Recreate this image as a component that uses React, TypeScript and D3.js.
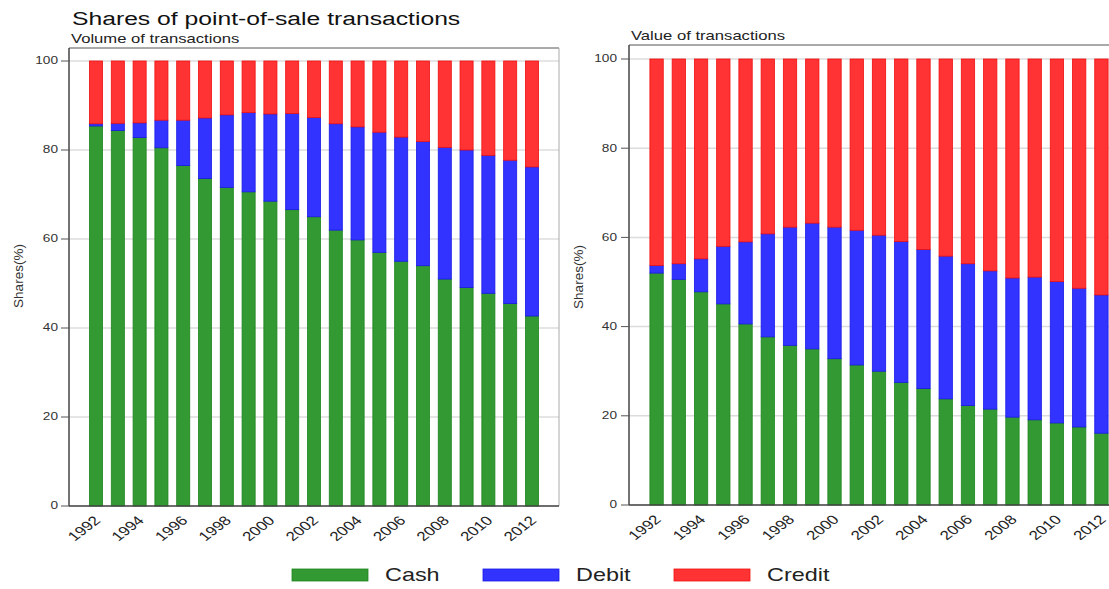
import React from "react";
import * as d3 from "d3";

const years = [1992, 1993, 1994, 1995, 1996, 1997, 1998, 1999, 2000, 2001, 2002, 2003, 2004, 2005, 2006, 2007, 2008, 2009, 2010, 2011, 2012];
const yearLabels = ["1992", "1994", "1996", "1998", "2000", "2002", "2004", "2006", "2008", "2010", "2012"];
const yTicks = [0, 20, 40, 60, 80, 100];
const seriesNames = ["Cash", "Debit", "Credit"];
const seriesFill = ["#339933", "#3333ff", "#ff3333"];
const seriesStroke = ["#1f851f", "#1a1ae6", "#f01010"];

// Volume of transactions (shares, %)
const volCash = [85.4, 84.4, 82.8, 80.5, 76.5, 73.6, 71.6, 70.6, 68.5, 66.6, 65.0, 62.0, 59.8, 57.0, 55.0, 54.0, 51.0, 49.1, 47.8, 45.5, 42.7];
const volDebit = [0.5, 1.6, 3.3, 6.2, 10.2, 13.6, 16.3, 17.8, 19.6, 21.6, 22.3, 23.9, 25.4, 27.0, 27.9, 27.9, 29.6, 30.9, 31.0, 32.2, 33.5];
const volCredit = [14.1, 14.0, 13.9, 13.3, 13.3, 12.8, 12.1, 11.6, 11.9, 11.8, 12.7, 14.1, 14.8, 16.0, 17.1, 18.1, 19.4, 20.0, 21.2, 22.3, 23.8];

// Value of transactions (shares, %)
const valCash = [52.0, 50.6, 47.8, 45.1, 40.6, 37.7, 35.8, 35.0, 32.8, 31.4, 30.0, 27.5, 26.1, 23.8, 22.3, 21.5, 19.7, 19.1, 18.4, 17.5, 16.1];
const valDebit = [1.7, 3.5, 7.4, 12.9, 18.4, 23.1, 26.5, 28.2, 29.5, 30.2, 30.5, 31.6, 31.2, 32.0, 31.8, 31.0, 31.2, 32.0, 31.7, 31.1, 31.0];
const valCredit = [46.3, 45.9, 44.8, 42.0, 41.0, 39.2, 37.7, 36.8, 37.7, 38.4, 39.5, 40.9, 42.7, 44.2, 45.9, 47.5, 49.1, 48.9, 49.9, 51.4, 52.9];

const SX = 1.3; // horizontal stretch of glyphs in the reference

type PanelProps = {
  x0: number; x1: number; yTop: number; y0: number; y100: number;
  cash: number[]; debit: number[]; credit: number[];
  subtitle: string; subX: number; subY: number;
  tickRight: number; ylabX: number; ylabY: number; boxTop: number;
};

function Panel(p: PanelProps) {
  const rows = years.map((yr, i) => ({ year: String(yr), Cash: p.cash[i], Debit: p.debit[i], Credit: p.credit[i] }));
  const stack = d3.stack<any>().keys(seriesNames)(rows);
  const x = d3.scaleBand<string>().domain(years.map(String)).range([p.x0, p.x1]).paddingInner(0.4).paddingOuter(0.94);
  const y = d3.scaleLinear().domain([0, 100]).range([p.y0, p.y100]);
  return (
    <g>
      {yTicks.map((t) => (
        <line key={"g" + t} x1={p.x0} x2={p.x1} y1={y(t)} y2={y(t)} stroke="#dcdcdc" strokeWidth={1.5} />
      ))}
      <line x1={p.x0} x2={p.x1} y1={p.boxTop} y2={p.boxTop} stroke="#555" strokeWidth={1} />
      <line x1={p.x1} x2={p.x1} y1={p.boxTop} y2={p.y0} stroke="#aaa" strokeWidth={1} />
      {stack.map((s, si) => (
        <g key={s.key}>
          {s.map((d: any, i: number) => (
            <rect
              key={i}
              x={x(rows[i].year)!}
              width={x.bandwidth()}
              y={y(d[1])}
              height={y(d[0]) - y(d[1])}
              fill={seriesFill[si]}
              stroke={seriesStroke[si]}
              strokeWidth={0.8}
            />
          ))}
        </g>
      ))}
      <line x1={p.x0} x2={p.x0} y1={p.boxTop} y2={p.y0} stroke="#444" strokeWidth={1.5} />
      <line x1={p.x0} x2={p.x1} y1={p.y0} y2={p.y0} stroke="#444" strokeWidth={1.5} />
      {yTicks.map((t) => (
        <g key={"t" + t}>
          <line x1={p.x0 - 8} x2={p.x0} y1={y(t)} y2={y(t)} stroke="#555" strokeWidth={1} />
          <text
            transform={`translate(${p.tickRight},${y(t)}) scale(${SX},1)`}
            textAnchor="end"
            dominantBaseline="central"
            fontSize={10.5}
            fill="#333"
          >
            {t}
          </text>
        </g>
      ))}
      {yearLabels.map((yl) => (
        <text
          key={yl}
          transform={`translate(${x(yl)! + x.bandwidth() / 2 + 1},${p.y0 + 12}) scale(${SX},1) rotate(-45)`}
          textAnchor="end"
          dominantBaseline="central"
          fontSize={13}
          fill="#222"
        >
          {yl}
        </text>
      ))}
      <text
        transform={`translate(${p.ylabX},${p.ylabY}) rotate(-90)`}
        textAnchor="middle"
        dominantBaseline="central"
        fontSize={13.5}
        fill="#333"
      >
        Shares(%)
      </text>
      <text transform={`translate(${p.subX},${p.subY}) scale(1.28,1)`} fontSize={13} fill="#222">
        {p.subtitle}
      </text>
    </g>
  );
}

export default function App() {
  const legendX = [292, 483, 674];
  return (
    <svg
      width={1109}
      height={589}
      style={{ position: "absolute", left: 0, top: 0, background: "#fff", fontFamily: "'Liberation Sans', Arial, sans-serif" }}
    >
      <rect x={0} y={0} width={1109} height={589} fill="#fff" />
      <text transform={`translate(72,25) scale(${SX},1)`} fontSize={19} fill="#111">
        Shares of point-of-sale transactions
      </text>
      <Panel
        x0={69} x1={559} boxTop={48} y0={506} y100={61}
        cash={volCash} debit={volDebit} credit={volCredit}
        subtitle="Volume of transactions" subX={71} subY={43}
        tickRight={58} ylabX={18} ylabY={276}
      />
      <Panel
        x0={629} x1={1129} boxTop={45} y0={505} y100={59}
        cash={valCash} debit={valDebit} credit={valCredit}
        subtitle="Value of transactions" subX={631} subY={40}
        tickRight={617} ylabX={578} ylabY={277}
      />
      {seriesNames.map((n, i) => (
        <g key={n}>
          <rect x={legendX[i]} y={569} width={76} height={12} fill={seriesFill[i]} stroke={seriesStroke[i]} strokeWidth={0.8} />
          <text transform={`translate(${legendX[i] + 93},581) scale(${SX},1)`} fontSize={18} fill="#222">
            {n}
          </text>
        </g>
      ))}
    </svg>
  );
}
